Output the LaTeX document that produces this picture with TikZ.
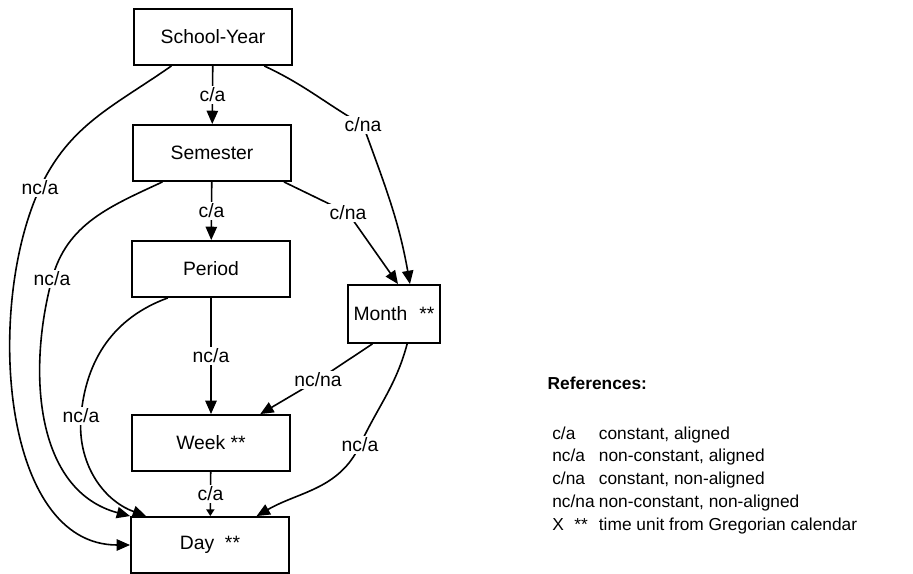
\documentclass[tikz,border=0pt]{standalone}
\usepackage{fontspec}
\setmainfont{Liberation Sans}
\usetikzlibrary{arrows.meta,positioning,calc}

\begin{document}
\begin{tikzpicture}[x=0.75pt,y=0.75pt,font=\fontsize{14.5}{17}\selectfont,>={Triangle[length=10pt,width=8.5pt]},
  unitbox/.style={draw,line width=1.4pt,minimum width=118.5pt,minimum height=42pt,inner sep=0pt},
  rel/.style={->,line width=1.2pt},
  lbl/.style={fill=white,inner sep=1.5pt}]
  \useasboundingbox (0,0) rectangle (913,574);
  % time units
  \node[unitbox] (year) at (213,537) {School-Year};
  \node[unitbox] (sem) at (212,421) {Semester};
  \node[unitbox] (period) at (211,305) {Period};
  \node[unitbox,minimum width=69pt,minimum height=43.5pt] (month) at (394,260) {Month\hspace{9pt}**};
  \node[unitbox] (week) at (211,131) {Week **};
  \node[unitbox] (day) at (210,29) {Day\hspace{8pt}**};
  % straight relations
  \draw[rel] (year) -- node[lbl]{c/a} (sem);
  \draw[rel] (sem) -- node[lbl]{c/a} (period);
  \draw[rel] (period) -- node[lbl]{nc/a} (week);
  \draw[->,line width=1.2pt,>={Triangle[length=5pt,width=6pt]}] (week) -- node[lbl]{c/a} (day);
  % curved relations
  \draw[rel] ($(year.south west)!.24!(year.south east)$) to[out=215,in=65] (40,386) node[lbl]{nc/a}
    to[out=245,in=180,looseness=0.9] (day.west);
  \draw[rel] ($(sem.south west)!.19!(sem.south east)$) to[out=205,in=75] (52,295) node[lbl]{nc/a}
    to[out=255,in=165] (day.north west);
  \draw[rel] ($(period.south west)!.23!(period.south east)$) to[out=200,in=85] (81,158) node[lbl]{nc/a}
    to[out=265,in=160] ([xshift=12pt]day.north west);
  \draw[rel] ($(year.south west)!.82!(year.south east)$) to[out=-25,in=150] (363,449) node[lbl]{c/na}
    to[out=-70,in=100] ([xshift=12pt]month.north);
  \draw[rel] ($(sem.south west)!.95!(sem.south east)$) -- (348,361) node[lbl]{c/na}
    -- ([xshift=3pt]month.north);
  \draw[rel] ($(month.south west)!.27!(month.south east)$) -- (318,194) node[lbl]{nc/na}
    -- ([xshift=-23pt]week.north east);
  \draw[rel] ($(month.south west)!.64!(month.south east)$) to[out=255,in=65] (360,129) node[lbl]{nc/a}
    to[out=245,in=30] ([xshift=-25pt]day.north east);
  % references
  \node[anchor=west,font=\fontsize{13}{16}\selectfont\bfseries] (refs) at (543,191) {References:};
  \node[anchor=north west,font=\fontsize{13}{16}\selectfont,inner sep=0pt] (legend) at (552,150)
    {\begin{tabular}{@{}p{35pt}@{}l@{}}
      c/a & constant, aligned\\[1.1pt]
      nc/a & non-constant, aligned\\[1.1pt]
      c/na & constant, non-aligned\\[1.1pt]
      nc/na & non-constant, non-aligned\\[1.1pt]
      X\hspace{8pt}** & time unit from Gregorian calendar
    \end{tabular}};
\end{tikzpicture}
\end{document}
